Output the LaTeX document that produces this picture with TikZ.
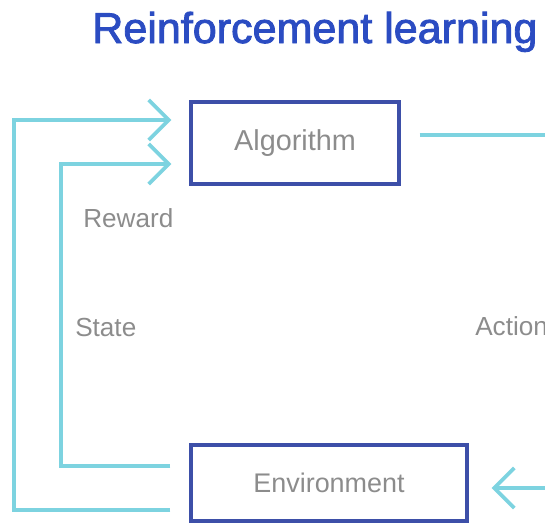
\documentclass[tikz,border=0pt]{standalone}
\usepackage{fontspec}
\setmainfont{Liberation Sans}
\newfontfamily\headfont[FakeBold=2]{Liberation Sans}
\usepackage{tikz}
\usetikzlibrary{arrows.meta}

\definecolor{titleblue}{HTML}{2B4CC2}
\definecolor{boxblue}{HTML}{3D4FA8}
\definecolor{flowcyan}{HTML}{7DD3E0}
\definecolor{labelgray}{HTML}{8C8C8C}

\begin{document}
\begin{tikzpicture}[x=0.75pt, y=-0.75pt,
    block/.style={draw=boxblue, line width=2.5pt, inner sep=0pt, text=labelgray},
    flow/.style={draw=flowcyan, line width=2.8pt,
        -{Straight Barb[length=15pt, width=30pt, line width=2.8pt]}},
    tag/.style={anchor=base west, inner sep=0pt, text=labelgray,
        font=\fontsize{19.6}{23}\selectfont}]

    \useasboundingbox (0,0) rectangle (545,526);
    \clip (0,0) rectangle (545,526);

    % Title
    \node[anchor=base west, inner sep=0pt, text=titleblue,
        font=\headfont\fontsize{32.3}{37}\selectfont] (title) at (92,43) {Reinforcement learning};

    % Boxes
    \node[block, minimum width=156pt, minimum height=61.5pt,
        font=\fontsize{21.6}{25}\selectfont] (alg) at (295,143) {Algorithm};
    \node[block, minimum width=207pt, minimum height=57pt,
        font=\fontsize{20.2}{24}\selectfont] (env) at (329,483) {Environment};

    % Reward and state loops back into the algorithm
    \draw[flow] ([shift={(-19,27)}]env.west) -| (14,120) -- ([shift={(-18,-23)}]alg.west);
    \draw[flow] ([shift={(-19,-17)}]env.west) -| (61,164) -- ([shift={(-18,21)}]alg.west);

    % Action from the algorithm to the environment
    \draw[flow] ([shift={(19,-8)}]alg.east) -- (600,135) |- ([shift={(23,5)}]env.east);

    % Labels
    \node[tag] (reward) at (83,227) {Reward};
    \node[tag] (state) at (75,336) {State};
    \node[tag] (action) at (475,335) {Action};

\end{tikzpicture}
\end{document}
